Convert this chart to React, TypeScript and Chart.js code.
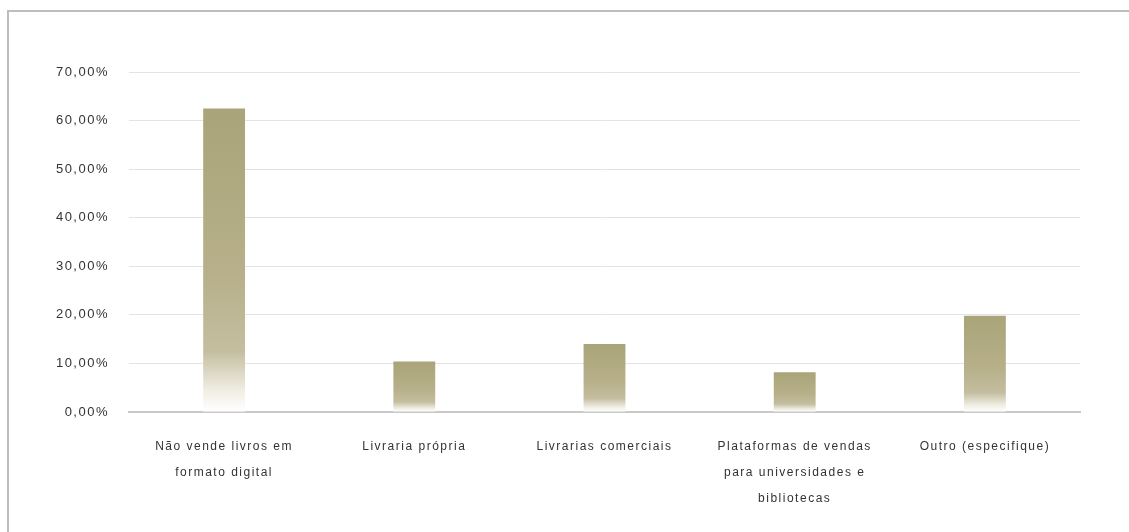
import React, { useEffect, useRef } from "react";
import { Chart, registerables } from "chart.js";

Chart.register(...registerables);

const categories: (string | string[])[] = [
  ["Não vende livros em", "formato digital"],
  "Livraria própria",
  "Livrarias comerciais",
  ["Plataformas de vendas", "para universidades e", "bibliotecas"],
  "Outro (especifique)",
];
const shares: number[] = [62.5, 10.4, 14.0, 8.2, 19.8];
const yMax = 70;
const yStep = 10;

const W = 1129;
const H = 532;

const letterSpacing = {
  id: "letterSpacing",
  beforeUpdate(c: any) {
    c.ctx.letterSpacing = "1.5px";
  },
  beforeLayout(c: any) {
    c.ctx.letterSpacing = "1.5px";
  },
  beforeDraw(c: any) {
    c.ctx.letterSpacing = "1.5px";
  },
};

export default function App() {
  const ref = useRef<HTMLCanvasElement | null>(null);

  useEffect(() => {
    if (!ref.current) return;
    const family = "'Liberation Sans', Arial, sans-serif";
    const chart = new Chart(ref.current, {
      type: "bar",
      data: {
        labels: categories as any,
        datasets: [
          {
            data: shares,
            barPercentage: 0.22,
            categoryPercentage: 1,
            borderWidth: 0,
            backgroundColor: (ctx: any) => {
              const c = ctx.chart;
              const y = c.scales && c.scales.y;
              if (!c.chartArea || !y || typeof ctx.raw !== "number") return "#aaa57b";
              const top = y.getPixelForValue(ctx.raw);
              const base = y.getPixelForValue(0);
              const g = c.ctx.createLinearGradient(0, top, 0, base);
              g.addColorStop(0, "#a9a479");
              g.addColorStop(0.55, "#b7b08a");
              g.addColorStop(0.8, "#c4bea0");
              g.addColorStop(0.93, "#f0eee4");
              g.addColorStop(1, "#ffffff");
              return g;
            },
          },
        ],
      },
      options: {
        responsive: false,
        animation: false,
        devicePixelRatio: 1,
        layout: { padding: { left: 0, right: W - 1080, top: 72, bottom: 0 } },
        plugins: {
          legend: { display: false },
          tooltip: { enabled: false },
          title: { display: false },
        },
        scales: {
          x: {
            grid: { display: false, drawTicks: false },
            border: { display: true, color: "#c9c9c9", width: 2 },
            ticks: {
              font: { family, size: 12, lineHeight: 2.2 },
              color: "#333333",
              padding: 21,
              maxRotation: 0,
              minRotation: 0,
              autoSkip: false,
            },
            afterFit: (s: any) => {
              s.height = H - 412;
            },
          },
          y: {
            min: 0,
            max: yMax,
            grid: {
              color: "#e3e3e3",
              lineWidth: 1,
              drawTicks: false,
            },
            border: { display: false },
            ticks: {
              stepSize: yStep,
              font: { family, size: 13 },
              color: "#333333",
              padding: 20,
              callback: (v: any) => Number(v).toFixed(2).replace(".", ",") + "%",
            },
            afterFit: (s: any) => {
              s.width = 129;
            },
          },
        },
      },
      plugins: [letterSpacing],
    });
    return () => chart.destroy();
  }, []);

  return (
    <div
      style={{
        position: "fixed",
        left: 0,
        top: 0,
        width: W,
        height: H,
        overflow: "hidden",
        background: "#ffffff",
      }}
    >
      <div
        style={{
          position: "absolute",
          left: 7,
          top: 10,
          width: 1300,
          height: 700,
          border: "2px solid #bdbdbd",
          boxSizing: "border-box",
        }}
      />
      <canvas
        ref={ref}
        width={W}
        height={H}
        style={{ position: "absolute", left: 0, top: 0, width: W, height: H }}
      />
    </div>
  );
}
